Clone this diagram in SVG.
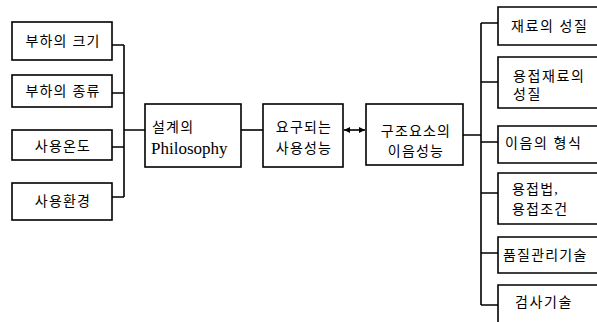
<svg xmlns="http://www.w3.org/2000/svg" width="597" height="322" viewBox="0 0 597 322">
<style>
.box{fill:#fff;stroke:#000;stroke-width:1.6}
.ln{fill:none;stroke:#000;stroke-width:1.6}
text{font-family:"Liberation Serif","Noto Sans CJK KR",serif;font-size:14px;fill:#000;letter-spacing:1.2px}
.c{text-anchor:middle}
.en{font-size:17px;letter-spacing:0}
.w{letter-spacing:1.6px}
</style>
<defs>
<marker id="ah" viewBox="0 0 8 8" refX="8" refY="4" markerWidth="6" markerHeight="6" orient="auto-start-reverse" markerUnits="userSpaceOnUse">
<path d="M0,0 L8,4 L0,8 Z" fill="#000"/>
</marker>
</defs>
<g id="connectors">
<path class="ln" d="M112,45 H124 M112,93 H124 M112,147 H124 M112,197 H124 M124,45 V197 M124,130 H145"/>
<path class="ln" d="M241,130 H263"/>
<path class="ln" d="M344,130 H365" marker-start="url(#ah)" marker-end="url(#ah)"/>
<path class="ln" d="M463,135 H481 M481,23 V305 M481,23 H498 M481,82 H498 M481,142 H498 M481,193 H498 M481,253 H498 M481,305 H498"/>
</g>
<g id="n1"><rect class="box" x="12" y="22" width="100" height="38"/><text class="c" x="63" y="46">부하의 크기</text></g>
<g id="n2"><rect class="box" x="12" y="75" width="100" height="32"/><text class="c" x="63" y="96">부하의 종류</text></g>
<g id="n3"><rect class="box" x="12" y="130" width="100" height="30"/><text class="c" x="63" y="151">사용온도</text></g>
<g id="n4"><rect class="box" x="12" y="183" width="100" height="37"/><text class="c" x="63" y="206">사용환경</text></g>
<g id="n5"><rect class="box" x="145" y="104" width="96" height="63"/><text x="152" y="132">설계의</text><text class="en" x="151" y="154">Philosophy</text></g>
<g id="n6"><rect class="box" x="263" y="104" width="80" height="63"/><text class="c" x="304" y="132">요구되는</text><text class="c" x="304" y="153">사용성능</text></g>
<g id="n7"><rect class="box" x="366" y="104" width="97" height="61"/><text class="c" x="416" y="136">구조요소의</text><text class="c" x="416" y="156">이음성능</text></g>
<g id="n8"><path class="ln" d="M600,7 H498 V45 H600"/><text class="w" x="511" y="31">재료의 성질</text></g>
<g id="n9"><path class="ln" d="M600,57 H498 V108 H600"/><text class="w" x="513" y="81">용접재료의</text><text class="w" x="513" y="99">성질</text></g>
<g id="n10"><path class="ln" d="M600,126 H498 V163 H600"/><text class="w" x="505" y="148">이음의 형식</text></g>
<g id="n11"><path class="ln" d="M600,173 H498 V224 H600"/><text x="512" y="194">용접법,</text><text x="512" y="214">용접조건</text></g>
<g id="n12"><path class="ln" d="M600,237 H498 V273 H600"/><text x="503" y="260">품질관리기술</text></g>
<g id="n13"><path class="ln" d="M600,285 H498 V330"/><text class="w" x="515" y="307">검사기술</text></g>
</svg>
